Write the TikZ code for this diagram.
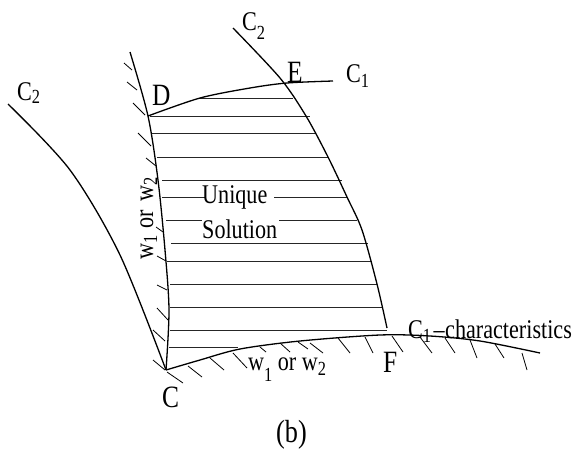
\documentclass[tikz,border=0pt]{standalone}
\usepackage{fontspec}
\setmainfont{Liberation Serif}[FakeStretch=0.82]
\newcommand{\sbs}[2]{\raisebox{-#1pt}{\fontsize{20}{20}\selectfont #2}}
\begin{document}
\begin{tikzpicture}[x=1pt,y=-1pt,
  curve/.style={line width=1.3pt},
  hatch/.style={line width=0.8pt, black!85},
  tick/.style={line width=0.8pt},
  lbl/.style={anchor=base west, inner sep=0pt, font=\fontsize{27}{27}\selectfont},
  ptl/.style={anchor=base west, inner sep=0pt, font=\fontsize{31}{31}\selectfont}]
\useasboundingbox (0,0) rectangle (574,456);
\coordinate (C) at (166,370);
\coordinate (D) at (148,116);
% horizontal hatching of the region
\foreach \yy/\xa/\xb in {98/198/293, 116/150/310, 133/152/315, 157/157/328, 180/162/342,
   243/171/368, 261/167/372, 284/170/377, 307/170/382, 330/170/387, 347/169/238,
   197/162/205, 197/274/347, 220/166/202, 220/279/357}
  \draw[hatch] (\xa,\yy) -- (\xb,\yy);
% left boundary C--D
\draw[curve] plot[smooth] coordinates {(130,52) (D) (158,180) (165,250) (169,310) (C)};
% left C2
\draw[curve] plot[smooth] coordinates {(8,104) (70,170) (120,255) (C)};
% right C2
\draw[curve] plot[smooth] coordinates {(233,28) (280,78) (306,116) (328,157) (347,197) (362,230) (377,284) (387,328)};
% top C1
\draw[curve] plot[smooth] coordinates {(D) (200,98) (250,88) (287,83) (333,81)};
% bottom C1
\draw[curve] plot[smooth] coordinates {(C) (200,360) (240,349) (300,341) (380,335) (430,336) (480,341) (540,353)};
% ticks on left boundary
\foreach \xa/\ya/\xb/\yb in {124/63/132/70, 127/82/137/90, 133/103/145/115, 138/133/151/146,
   146/158/156/166, 156/227/163/232, 157/256/166/261, 157/285/167/290, 157/308/168/320,
   153/330/165/341, 153/360/165/370}
  \draw[tick] (\xa,\ya) -- (\xb,\yb);
% ticks on bottom curve
\foreach \xa/\ya/\xb/\yb in {167/372/183/383, 188/366/202/377, 210/358/224/370, 233/353/247/368,
   260/347/266/352, 280/343/290/352, 298/342/308/349, 310/343/323/353, 338/338/350/353,
   365/337/373/353, 392/336/403/352, 420/337/432/353, 445/338/455/353, 470/340/477/358,
   495/344/504/358, 522/353/527/370}
  \draw[tick] (\xa,\ya) -- (\xb,\yb);
% labels
\node[lbl] (c2a) at (17,100) {C\sbs{3}{2}};
\node[lbl] (c2b) at (242,30) {C\sbs{9}{2}};
\node[lbl] (c1a) at (346,82) {C\sbs{5}{1}};
\node[ptl] (lD) at (152,105) {D};
\node[ptl] (lE) at (287,82) {E};
\node[ptl] (lF) at (383,372) {F};
\node[ptl] (lC) at (162,407) {C};
\node[lbl] (uq) at (202,203) {Unique};
\node[lbl] (sol) at (202,238) {Solution};
\node[lbl] (c1c) at (408,338) {C\sbs{4}{1}\hspace{2.5pt}--\hspace{0.5pt}characteristics};
\node[lbl] (wb) at (248,370) {w\sbs{11}{1} or w\sbs{5}{2}};
\node[lbl, rotate=90] (wl) at (153,260) {w\sbs{4}{1}\hspace{7pt}or\hspace{9pt}w\sbs{4}{2}};
\node[lbl, font=\fontsize{32}{32}\selectfont] (cap) at (276,442) {(b)};
\end{tikzpicture}
\end{document}
